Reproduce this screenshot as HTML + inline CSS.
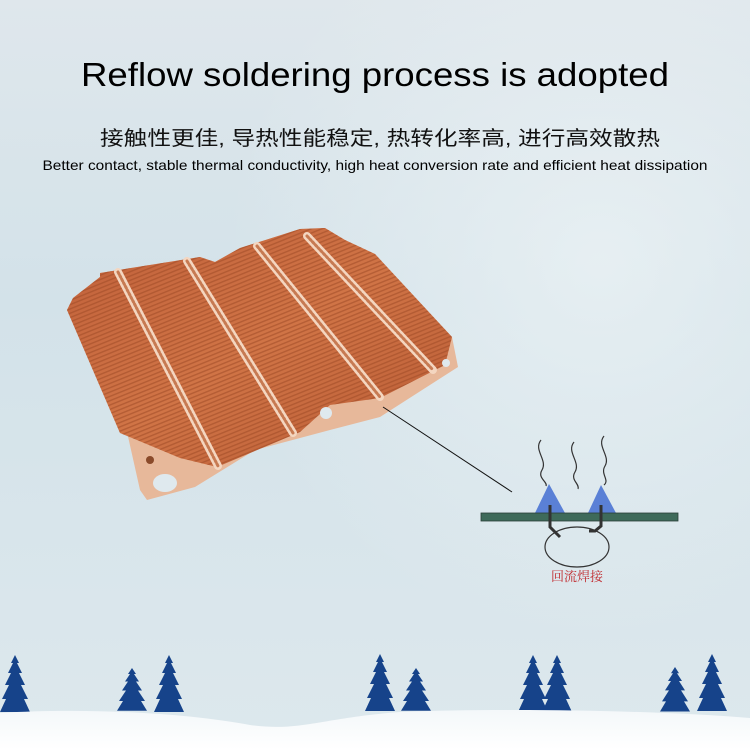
<!DOCTYPE html>
<html><head><meta charset="utf-8"><style>
html,body{margin:0;padding:0;width:750px;height:750px;overflow:hidden}
svg{display:block}
</style></head><body>
<svg width="750" height="750" viewBox="0 0 750 750" xmlns="http://www.w3.org/2000/svg">
<defs>
<linearGradient id="bg" x1="0" y1="0" x2="0" y2="1">
<stop offset="0" stop-color="#dfe7ec"/><stop offset="0.4" stop-color="#d3e2e9"/><stop offset="1" stop-color="#dde8ed"/>
</linearGradient>
<radialGradient id="sp" cx="0.8" cy="0.35" r="0.5"><stop offset="0" stop-color="#eef4f6" stop-opacity="0.7"/><stop offset="1" stop-color="#eef4f6" stop-opacity="0"/></radialGradient>
<linearGradient id="cu" x1="0" y1="0" x2="1" y2="1">
<stop offset="0" stop-color="#c0603a"/><stop offset="0.5" stop-color="#d07446"/><stop offset="1" stop-color="#b85a34"/>
</linearGradient>
<pattern id="fins" width="6" height="4" patternUnits="userSpaceOnUse" patternTransform="rotate(-22)">
<rect width="6" height="4" fill="none"/><rect y="0" width="6" height="1.4" fill="#9e4a26" opacity="0.55"/>
</pattern>
<linearGradient id="snow" x1="0" y1="0" x2="0" y2="1"><stop offset="0" stop-color="#f4f8fa"/><stop offset="1" stop-color="#ffffff"/></linearGradient>
<g id="tree"><path d="M0,0 L4,8 L2,8 L7,18 L4,18 L10,30 L6,30 L13,44 L9,44 L15,57 L-15,57 L-9,44 L-13,44 L-6,30 L-10,30 L-4,18 L-7,18 L-2,8 L-4,8 Z" fill="#16438a"/></g>
</defs>
<rect width="750" height="750" fill="url(#bg)"/>
<rect width="750" height="750" fill="url(#sp)"/>

<text x="375" y="86" text-anchor="middle" font-family="Liberation Sans, sans-serif" font-size="33" fill="#000" textLength="588" lengthAdjust="spacingAndGlyphs">Reflow soldering process is adopted</text>
<text x="380" y="145" text-anchor="middle" font-family="Liberation Sans, 'Noto Sans CJK SC', sans-serif" font-size="20" fill="#111" textLength="560" lengthAdjust="spacingAndGlyphs">接触性更佳, 导热性能稳定, 热转化率高, 进行高效散热</text>
<text x="375" y="170" text-anchor="middle" font-family="Liberation Sans, sans-serif" font-size="14" fill="#000" textLength="665" lengthAdjust="spacingAndGlyphs">Better contact, stable thermal conductivity, high heat conversion rate and efficient heat dissipation</text>

<!-- heatsink -->
<polygon points="67,310 73,298 100,277 100,273 200,257 215,262 240,248 300,229 325,228 345,240 375,254 452,337 458,367 380,417 330,430 255,450 195,487 147,500 140,490 127,432 120,433" fill="#e7b89a"/>
<polygon points="67,310 73,298 100,277 100,273 200,257 215,262 240,248 300,229 325,228 345,240 375,254 452,337 445,365 380,398 330,405 300,432 217,467 180,458 120,433" fill="url(#cu)"/>
<polygon points="67,310 73,298 100,277 100,273 200,257 215,262 240,248 300,229 325,228 345,240 375,254 452,337 445,365 380,398 330,405 300,432 217,467 180,458 120,433" fill="url(#fins)"/>
<g stroke-linecap="round" fill="none">
<line x1="118" y1="272" x2="218" y2="466" stroke="#f4d6c0" stroke-width="8"/>
<line x1="118" y1="272" x2="218" y2="466" stroke="#c77a52" stroke-width="3" stroke-dasharray="2 2"/>
<line x1="187" y1="261" x2="293" y2="433" stroke="#f4d6c0" stroke-width="8"/>
<line x1="187" y1="261" x2="293" y2="433" stroke="#c77a52" stroke-width="3" stroke-dasharray="2 2"/>
<line x1="257" y1="246" x2="380" y2="397" stroke="#f4d6c0" stroke-width="8"/>
<line x1="257" y1="246" x2="380" y2="397" stroke="#c77a52" stroke-width="3" stroke-dasharray="2 2"/>
<line x1="307" y1="236" x2="433" y2="370" stroke="#f4d6c0" stroke-width="8"/>
<line x1="307" y1="236" x2="433" y2="370" stroke="#c77a52" stroke-width="3" stroke-dasharray="2 2"/>
</g>
<ellipse cx="165" cy="483" rx="12" ry="9" fill="#dfe9ee"/>
<circle cx="150" cy="460" r="4" fill="#8a4a2a"/>
<circle cx="326" cy="413" r="6" fill="#dfe9ee"/>
<circle cx="446" cy="363" r="4" fill="#dfe9ee"/>

<!-- connector -->
<line x1="383" y1="407" x2="512" y2="492" stroke="#111" stroke-width="1"/>

<!-- diagram -->
<g fill="none" stroke="#333" stroke-width="1.2">
<path d="M541,440 C533,450 548,460 542,470 C537,478 548,482 546,486"/>
<path d="M574,442 C566,452 581,462 575,472 C570,480 580,484 578,489"/>
<path d="M604,436 C596,446 611,456 605,466 C600,474 610,480 604,485"/>
</g>
<polygon points="549,484 535,513 565,513" fill="#5a80d6"/>
<polygon points="601,485 588,513 616,513" fill="#5a80d6"/>
<rect x="481" y="513" width="197" height="8" fill="#3e6a5a" stroke="#2a3f38" stroke-width="0.8"/>
<ellipse cx="577" cy="547" rx="32" ry="20" fill="none" stroke="#333" stroke-width="1.2"/>
<path d="M550,505 L550,527 L560,537" fill="none" stroke="#333" stroke-width="3"/>
<path d="M601,505 L601,526 L595,531 L589,531" fill="none" stroke="#333" stroke-width="3"/>
<text x="577" y="581" text-anchor="middle" font-family="'Noto Serif CJK SC', serif" font-size="13" fill="#c0282c">回流焊接</text>

<!-- trees -->
<use href="#tree" transform="translate(15,655)"/>
<use href="#tree" transform="translate(132,668) scale(1,0.75)"/>
<use href="#tree" transform="translate(169,655)"/>
<use href="#tree" transform="translate(380,654)"/>
<use href="#tree" transform="translate(416,668) scale(1,0.75)"/>
<use href="#tree" transform="translate(533,655)"/>
<use href="#tree" transform="translate(557,655)"/>
<use href="#tree" transform="translate(675,667) scale(1,0.78)"/>
<use href="#tree" transform="translate(712,654)"/>
<!-- snow -->
<path d="M0,713 C80,708 180,712 250,725 C300,732 320,718 400,712 C500,708 650,710 750,718 L750,750 L0,750 Z" fill="url(#snow)"/>
</svg>
</body></html>
